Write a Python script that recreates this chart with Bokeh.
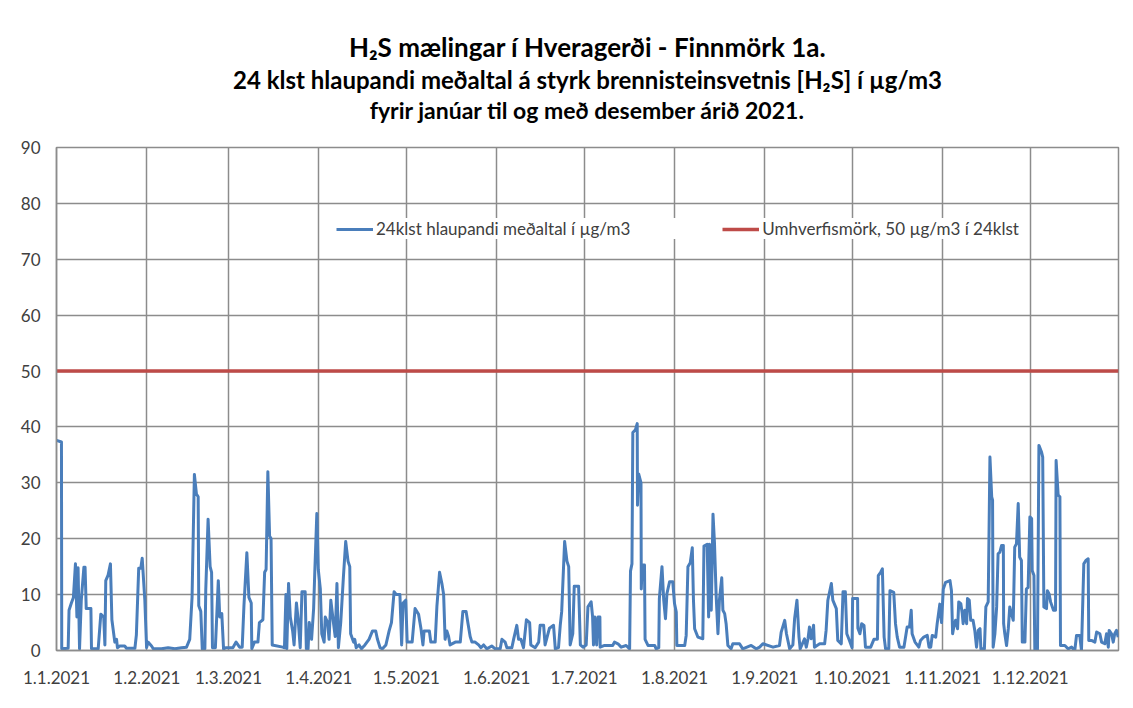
from datetime import date
from bokeh.plotting import figure
from bokeh.models import FixedTicker, Range1d, Title
from bokeh.embed import file_html
from bokeh.resources import INLINE

# ---- data: 24 h running mean of H2S (µg/m3), day of year 2021 (0 = 1 Jan) ----
day = [
    0.0, 1.7, 1.8, 4.0, 4.3, 5.1, 5.8, 6.5, 7.0, 7.4,
    7.9, 8.5, 9.4, 9.8, 10.2, 11.8, 12.0, 14.3, 15.2, 16.2,
    16.6, 16.9, 17.7, 18.5, 19.0, 20.0, 20.6, 20.9, 21.7, 23.4,
    24.0, 26.9, 27.4, 28.2, 28.9, 29.4, 30.3, 30.9, 31.4, 32.6,
    33.2, 36.0, 38.3, 40.6, 42.9, 44.6, 45.7, 46.5, 47.3, 48.0,
    48.6, 48.8, 49.5, 50.0, 50.9, 51.2, 52.0, 52.7, 53.2, 53.5,
    54.5, 55.5, 56.0, 56.7, 57.3, 58.2, 60.5, 61.6, 62.8, 63.7,
    64.3, 65.3, 66.0, 66.8, 67.0, 67.9, 69.1, 69.6, 70.8, 71.4,
    71.9, 72.5, 73.1, 73.6, 74.0, 77.6, 78.2, 78.7, 79.0, 79.6,
    80.2, 81.0, 81.5, 82.3, 82.9, 83.6, 84.2, 85.3, 85.7, 86.3,
    86.7, 87.5, 88.2, 88.6, 89.3, 89.8, 90.5, 91.0, 91.8, 92.2,
    93.0, 93.5, 94.1, 95.0, 95.6, 96.2, 96.7, 97.5, 98.4, 99.2,
    100.0, 100.6, 100.9, 101.9, 102.3, 102.8, 103.8, 104.6, 105.8, 107.2,
    108.4, 109.5, 110.1, 111.0, 111.8, 113.0, 114.1, 114.9, 115.8, 116.6,
    117.8, 118.4, 118.9, 119.8, 120.3, 122.0, 123.0, 124.2, 125.0, 125.7,
    126.1, 127.9, 128.4, 129.9, 130.5, 131.4, 132.2, 132.8, 133.3, 133.9,
    134.5, 135.0, 136.8, 138.5, 139.4, 140.5, 141.1, 141.9, 142.5, 143.6,
    144.8, 145.6, 146.5, 147.6, 149.3, 150.5, 152.2, 152.8, 153.9, 154.5,
    156.2, 156.8, 157.9, 158.5, 159.3, 160.2, 161.2, 162.3, 162.7, 164.2,
    165.4, 165.9, 167.1, 167.6, 169.1, 170.5, 171.1, 172.2, 172.8, 173.3,
    174.3, 175.1, 175.7, 176.2, 177.1, 177.6, 179.1, 179.7, 180.6, 181.7,
    182.3, 183.4, 183.9, 184.2, 184.7, 185.3, 185.8, 186.4, 186.5, 188.0,
    190.8, 191.4, 192.6, 193.7, 195.4, 196.6, 196.9, 197.4, 197.7, 198.6,
    199.2, 199.3, 199.7, 200.5, 200.6, 200.9, 201.7, 201.9, 202.9, 205.2,
    205.7, 206.6, 206.8, 207.7, 208.3, 208.9, 209.4, 210.3, 211.4, 212.0,
    212.6, 212.8, 215.5, 216.0, 216.6, 217.4, 218.1, 218.5, 218.9, 220.0,
    221.7, 222.1, 223.2, 223.7, 224.0, 224.6, 225.2, 225.7, 226.3, 226.9,
    227.4, 228.2, 228.6, 229.2, 229.7, 230.3, 231.4, 232.0, 234.3, 235.4,
    238.3, 240.0, 241.2, 242.3, 245.8, 248.0, 248.6, 249.8, 250.4, 251.5,
    252.6, 253.2, 254.0, 254.7, 255.1, 256.6, 257.2, 257.8, 258.3, 258.9,
    259.7, 260.0, 261.8, 263.5, 264.0, 264.6, 265.8, 266.3, 267.5, 268.0,
    269.2, 269.8, 270.6, 271.1, 272.0, 272.9, 273.1, 274.8, 274.9, 275.6,
    276.2, 277.0, 277.5, 279.3, 280.4, 281.6, 281.9, 282.7, 283.3, 283.9,
    284.4, 285.5, 285.9, 287.2, 287.8, 288.4, 289.2, 290.7, 291.8, 292.6,
    293.2, 293.5, 294.5, 295.8, 296.4, 297.5, 298.7, 299.3, 299.9, 300.4,
    301.6, 302.1, 303.0, 303.6, 304.2, 305.0, 306.5, 307.0, 307.4, 307.8,
    308.4, 309.1, 309.5, 310.2, 310.7, 311.0, 311.6, 312.2, 312.5, 313.1,
    313.6, 314.4, 315.0, 315.6, 316.2, 316.8, 317.1, 318.3, 318.8, 319.6,
    320.2, 320.8, 321.1, 321.3, 321.9, 322.5, 323.0, 323.6, 324.2, 324.8,
    324.9, 325.3, 325.9, 326.5, 327.0, 327.6, 328.2, 328.7, 329.3, 329.9,
    330.4, 331.0, 331.3, 332.2, 332.7, 333.3, 333.9, 334.5, 334.7, 335.3,
    335.6, 336.5, 337.0, 337.9, 338.3, 338.7, 339.6, 339.9, 340.5, 341.0,
    342.0, 342.7, 342.9, 343.6, 344.2, 344.4, 345.9, 347.0, 348.2, 349.3,
    349.9, 351.0, 351.6, 352.4, 353.1, 353.9, 354.1, 355.0, 356.2, 356.8,
    357.9, 358.5, 359.6, 360.2, 360.8, 361.1, 361.9, 362.5, 363.0, 363.6,
    364.2,
]
h2s = [
    37.6, 37.3, 0.3, 0.4, 7.2, 8.5, 9.5, 15.5, 6.0, 14.8,
    0.3, 9.0, 14.9, 14.9, 7.5, 7.5, 0.3, 0.3, 6.5, 6.0,
    1.0, 12.5, 13.5, 15.5, 5.5, 1.5, 2.0, 0.5, 0.8, 0.8,
    0.4, 0.4, 2.8, 14.7, 14.7, 16.5, 9.0, 0.5, 1.5, 0.8,
    0.3, 0.3, 0.5, 0.3, 0.5, 0.6, 2.0, 9.5, 31.5, 28.0,
    27.5, 8.0, 7.0, 0.3, 0.3, 10.8, 23.5, 15.0, 14.0, 0.5,
    0.5, 12.5, 6.0, 6.6, 0.3, 0.5, 0.5, 1.5, 0.6, 0.6,
    8.0, 17.5, 9.5, 8.5, 0.3, 1.5, 1.5, 5.0, 5.5, 14.0,
    14.5, 32.0, 20.5, 20.0, 1.0, 0.6, 0.5, 10.0, 0.3, 12.0,
    6.0, 3.5, 1.0, 8.5, 5.5, 0.5, 10.5, 10.5, 0.3, 0.3,
    5.0, 2.0, 7.5, 14.0, 24.5, 14.5, 11.0, 3.0, 1.5, 6.0,
    5.0, 2.0, 9.0, 5.0, 2.5, 12.0, 0.5, 5.0, 13.0, 19.5,
    16.0, 15.0, 3.0, 1.5, 2.0, 0.5, 1.0, 0.3, 1.0, 2.0,
    3.5, 3.5, 2.0, 0.5, 0.3, 1.0, 3.5, 5.0, 10.5, 10.0,
    10.0, 1.0, 8.5, 9.0, 1.5, 1.5, 7.5, 6.5, 4.0, 1.0,
    3.5, 3.5, 1.5, 1.5, 8.0, 14.0, 12.0, 10.0, 2.0, 3.5,
    2.5, 1.0, 1.5, 1.5, 7.0, 7.0, 5.0, 2.5, 1.5, 1.5,
    1.0, 0.5, 1.0, 0.3, 0.8, 0.3, 0.3, 2.0, 1.5, 0.5,
    0.5, 2.0, 4.5, 2.0, 2.0, 0.5, 5.5, 5.0, 1.0, 0.5,
    1.5, 4.5, 4.5, 1.0, 4.0, 4.5, 0.3, 0.5, 4.5, 7.0,
    19.5, 16.0, 15.0, 1.0, 3.0, 11.5, 11.5, 1.0, 0.6, 1.0,
    7.8, 8.7, 6.0, 1.0, 6.0, 1.0, 6.0, 6.0, 0.6, 0.9,
    0.9, 1.5, 1.2, 0.6, 0.9, 0.3, 14.2, 15.5, 39.0, 39.5,
    40.6, 26.0, 31.6, 30.0, 11.0, 15.3, 15.3, 2.0, 0.9, 0.9,
    0.3, 0.5, 9.3, 15.0, 9.0, 5.7, 10.2, 12.3, 12.3, 8.4,
    6.9, 0.9, 0.9, 2.7, 15.0, 15.7, 18.4, 9.0, 3.9, 2.4,
    2.1, 18.7, 19.0, 6.0, 19.0, 7.2, 24.4, 19.3, 9.6, 3.0,
    9.0, 13.0, 7.2, 6.6, 4.8, 0.9, 0.3, 1.2, 1.2, 0.3,
    0.9, 0.3, 0.6, 1.2, 0.6, 0.9, 3.3, 5.4, 3.0, 0.3,
    1.0, 5.7, 9.0, 2.4, 0.3, 2.1, 0.6, 2.1, 4.2, 2.1,
    4.5, 0.6, 1.2, 1.2, 3.6, 9.0, 12.0, 9.0, 7.5, 1.8,
    1.2, 10.5, 10.5, 3.0, 1.8, 0.5, 9.3, 9.3, 4.0, 3.0,
    4.8, 4.5, 0.6, 0.6, 2.0, 2.0, 13.4, 14.0, 14.6, 2.4,
    0.3, 0.3, 10.7, 10.4, 4.8, 2.4, 0.6, 0.6, 4.2, 4.2,
    7.2, 3.0, 1.5, 0.6, 1.8, 2.4, 2.7, 0.6, 0.6, 2.7,
    2.4, 4.8, 8.3, 5.0, 11.0, 12.2, 12.5, 10.7, 3.0, 4.2,
    5.4, 3.9, 8.7, 8.4, 6.6, 4.8, 7.2, 4.8, 9.3, 9.0,
    5.4, 5.4, 3.6, 0.6, 3.6, 3.9, 0.3, 0.3, 7.8, 8.7,
    34.6, 27.5, 26.9, 0.6, 3.0, 7.8, 17.3, 17.6, 18.8, 18.8,
    4.8, 3.0, 0.9, 3.9, 7.8, 6.6, 5.4, 18.5, 19.1, 26.3,
    16.7, 16.1, 1.5, 1.5, 11.0, 11.3, 23.9, 23.6, 14.3, 13.4,
    0.0, 0.0, 36.7, 35.5, 34.6, 7.8, 7.5, 10.7, 10.1, 8.7,
    7.2, 7.2, 34.0, 27.8, 27.5, 0.9, 0.9, 0.3, 0.6, 0.0,
    2.7, 2.7, 0.0, 15.5, 16.1, 16.4, 1.8, 1.8, 1.5, 3.3,
    3.0, 1.5, 1.2, 3.0, 0.6, 3.6, 3.0, 1.5, 3.0, 3.6,
    2.4,
]
assert len(day) == len(h2s)

limit = 50  # Umhverfismörk, µg/m3 over 24 h
month_labels = ["1.1.2021", "1.2.2021", "1.3.2021", "1.4.2021", "1.5.2021", "1.6.2021",
                "1.7.2021", "1.8.2021", "1.9.2021", "1.10.2021", "1.11.2021", "1.12.2021"]
year_start = date(2021, 1, 1)
month_days = [(date(2021, m, 1) - year_start).days for m in range(1, 13)]
y_ticks = [0, 10, 20, 30, 40, 50, 60, 70, 80, 90]
x_end = 364.3

title_lines = [
    "H₂S mælingar í Hveragerði - Finnmörk 1a.",
    "24 klst hlaupandi meðaltal á styrk brennisteinsvetnis [H₂S] í µg/m3",
    "fyrir janúar til og með desember árið 2021.",
]

FONT = "Lato"
TXT = "#404040"
GRID = "#8c8c8c"

p = figure(width=1129, height=705,
           x_range=Range1d(0, x_end), y_range=Range1d(0, 90),
           output_backend="svg", toolbar_location=None,
           min_border_left=56, min_border_right=11,
           min_border_top=147, min_border_bottom=55,
           background_fill_color="white", border_fill_color="white")

# stacked title lines: added titles sit closest to the plot, p.title outermost
p.add_layout(Title(text=" ", align="center", text_font=FONT,
                   text_font_size="10px", standoff=10), "above")   # spacer
p.add_layout(Title(text=title_lines[2], align="center", text_font=FONT,
                   text_font_style="bold", text_font_size="23px",
                   text_color="black", standoff=0), "above")
p.add_layout(Title(text=title_lines[1], align="center", text_font=FONT,
                   text_font_style="bold", text_font_size="24px",
                   text_color="black", standoff=0), "above")
p.title.text = title_lines[0]
p.title.align = "center"
p.title.text_font = FONT
p.title.text_font_style = "bold"
p.title.text_font_size = "26px"
p.title.text_color = "black"
p.title.standoff = 0

p.xaxis.ticker = FixedTicker(ticks=month_days)
p.xaxis.major_label_overrides = {d: lab for d, lab in zip(month_days, month_labels)}
p.yaxis.ticker = FixedTicker(ticks=y_ticks)
p.xgrid.ticker = FixedTicker(ticks=month_days)
p.ygrid.ticker = FixedTicker(ticks=y_ticks)
for ax in (p.xaxis[0], p.yaxis[0]):
    ax.axis_line_color = GRID
    ax.axis_line_width = 1.5
    ax.major_tick_line_color = None
    ax.minor_tick_line_color = None
    ax.major_label_text_font = FONT
    ax.major_label_text_font_size = "17px"
    ax.major_label_text_color = TXT
p.xaxis.major_label_standoff = 14
p.yaxis.major_label_standoff = 10
for g in (p.xgrid[0], p.ygrid[0]):
    g.grid_line_color = GRID
    g.grid_line_width = 1.5
p.outline_line_color = GRID
p.outline_line_width = 1.5

p.line(day, h2s, line_color="#4a7ebb", line_width=3, line_join="round",
       legend_label="24klst hlaupandi meðaltal í µg/m3")
p.line([0, x_end], [limit, limit], line_color="#be4b48", line_width=3.5,
       legend_label="Umhverfismörk, 50 µg/m3 í 24klst")

lg = p.legend[0]
lg.orientation = "horizontal"
lg.location = (280, 411)
lg.label_text_font = FONT
lg.label_text_font_size = "17px"
lg.label_text_color = TXT
lg.glyph_width = 37
lg.glyph_height = 20
lg.label_standoff = 3
lg.label_width = 254
lg.spacing = 92
lg.padding = 10
lg.margin = 0
lg.background_fill_color = "white"
lg.background_fill_alpha = 1.0
lg.border_line_color = None

open("out.html", "w").write(file_html(p, INLINE))
